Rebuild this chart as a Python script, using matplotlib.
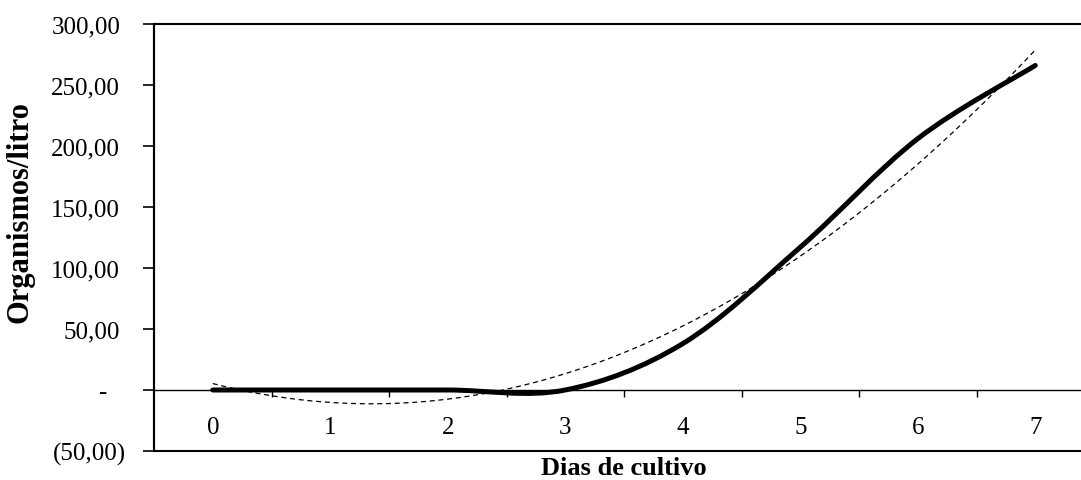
import numpy as np
import matplotlib.pyplot as plt
from matplotlib.path import Path
from matplotlib.patches import PathPatch
from matplotlib.ticker import FixedLocator, NullFormatter
from matplotlib.transforms import ScaledTranslation

# ----------------------------------
# DATA
# ----------------------------------

dias = [0, 1, 2, 3, 4, 5, 6, 7]
organismos = [0, 0, 0, 0, 38, 117, 206, 266]

y_ticks = [-50, 0, 50, 100, 150, 200, 250, 300]
y_labels = ["(50,00)", "-", "50,00", "100,00", "150,00",
            "200,00", "250,00", "300,00"]

plt.rcParams["font.family"] = ["Liberation Serif", "DejaVu Serif"]

# ----------------------------------
# FIGURE
# ----------------------------------

fig = plt.figure(figsize=(10.81, 4.81), dpi=100)
W, H = 1081, 481
ax = fig.add_axes([154 / W, (H - 452) / H, 940 / W, 427 / H])

ax.set_xlim(-0.5, 7.5)
ax.set_ylim(-50, 300)

# smoothed line (excel style bezier)
x = np.array(dias, dtype=float)
y = np.array(organismos, dtype=float)
n = len(x)
verts = [(x[0], y[0])]
codes = [Path.MOVETO]
for i in range(n - 1):
    i0 = max(i - 1, 0)
    i3 = min(i + 2, n - 1)
    c1 = (x[i] + (x[i + 1] - x[i0]) / 6, y[i] + (y[i + 1] - y[i0]) / 6)
    c2 = (x[i + 1] - (x[i3] - x[i]) / 6, y[i + 1] - (y[i3] - y[i]) / 6)
    verts += [c1, c2, (x[i + 1], y[i + 1])]
    codes += [Path.CURVE4] * 3
ax.add_patch(PathPatch(Path(verts, codes), fill=False, edgecolor="black",
                       lw=3.6, capstyle="round", joinstyle="round", zorder=4))

# polynomial trendline (order 2)
coef = np.polyfit(x, y, 2)
xs = np.linspace(x[0], x[-1], 200)
ax.plot(xs, np.polyval(coef, xs), color="black", lw=0.9,
        dashes=(4, 3), zorder=3)

# ----------------------------------
# AXES STYLE
# ----------------------------------

ax.patch.set_edgecolor("black")
ax.patch.set_linewidth(1.5)
for s in ["top", "right"]:
    ax.spines[s].set_visible(False)
ax.spines["left"].set_linewidth(1.5)
ax.spines["bottom"].set_position(("data", 0))
ax.spines["bottom"].set_linewidth(1.0)

ax.xaxis.set_major_locator(FixedLocator(dias))
ax.set_xticklabels([str(d) for d in dias])
ax.xaxis.set_minor_locator(FixedLocator([d + 0.5 for d in dias]))
ax.xaxis.set_minor_formatter(NullFormatter())
ax.tick_params(axis="x", which="major", length=0, pad=19, labelsize=18)
ax.tick_params(axis="x", which="minor", length=5, width=1.0,
               direction="out")

ax.set_yticks(y_ticks)
ax.set_yticklabels(y_labels)
ax.tick_params(axis="y", length=8, width=1.2, direction="out",
               pad=12, labelsize=18)

for lab in ax.get_yticklabels():
    t = lab.get_text()
    if t == "-":
        dx = -20
    elif t.startswith("("):
        dx = 0
    else:
        dx = -6
    lab.set_transform(lab.get_transform()
                      + ScaledTranslation(dx / 100, 0, fig.dpi_scale_trans))

ax.set_ylabel("Organismos/litro", fontsize=22, fontweight="bold")
ax.yaxis.set_label_coords((34 - 154) / 940, (452 - 212) / 427)
ax.set_xlabel("Dias de cultivo", fontsize=19, fontweight="bold")
ax.xaxis.set_label_coords(0.5, (452 - 469) / 427)
ax.xaxis.label.set_va("center")

fig.savefig("out.png", dpi=100)
